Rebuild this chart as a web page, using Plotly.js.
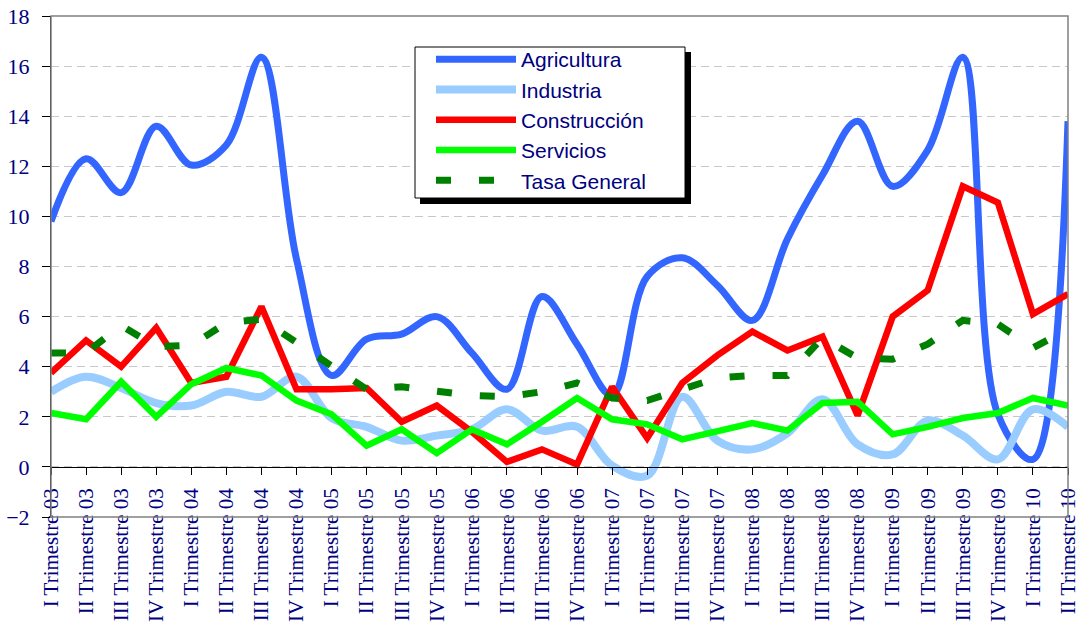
<!DOCTYPE html>
<html>
<head>
<meta charset="utf-8">
<script src="https://cdn.plot.ly/plotly-3.0.1.min.js"></script>
<style>html,body{margin:0;padding:0;background:#fff;}#chart{width:1076px;height:622px;}</style>
</head>
<body>
<div id="chart"></div>
<script>
const categories = [
  "I Trimestre 03","II Trimestre 03","III Trimestre 03","IV Trimestre 03",
  "I Trimestre 04","II Trimestre 04","III Trimestre 04","IV Trimestre 04",
  "I Trimestre 05","II Trimestre 05","III Trimestre 05","IV Trimestre 05",
  "I Trimestre 06","II Trimestre 06","III Trimestre 06","IV Trimestre 06",
  "I Trimestre 07","II Trimestre 07","III Trimestre 07","IV Trimestre 07",
  "I Trimestre 08","II Trimestre 08","III Trimestre 08","IV Trimestre 08",
  "I Trimestre 09","II Trimestre 09","III Trimestre 09","IV Trimestre 09",
  "I Trimestre 10","II Trimestre 10"
];
const agricultura = [9.8, 12.3, 10.95, 13.6, 12.05, 12.85, 16.35, 8.3, 3.65, 5.1, 5.3, 6.0, 4.55, 3.1, 6.8, 4.9, 2.85, 7.6, 8.35, 7.25, 5.85, 9.1, 11.65, 13.8, 11.2, 12.65, 16.35, 2.1, 0.3, 13.8];
const industria = [3.0, 3.6, 3.15, 2.55, 2.45, 3.0, 2.8, 3.6, 1.95, 1.6, 1.05, 1.25, 1.5, 2.3, 1.45, 1.6, 0.05, -0.35, 2.8, 1.05, 0.7, 1.35, 2.7, 0.9, 0.5, 1.85, 1.25, 0.3, 2.3, 1.6];
const construccion = [3.75, 5.05, 4.0, 5.55, 3.35, 3.6, 6.4, 3.1, 3.1, 3.15, 1.8, 2.45, 1.4, 0.2, 0.7, 0.1, 3.2, 1.15, 3.35, 4.45, 5.4, 4.65, 5.2, 2.05, 6.0, 7.05, 11.2, 10.55, 6.1, 6.9];
const servicios = [2.15, 1.9, 3.4, 2.0, 3.3, 3.95, 3.65, 2.65, 2.1, 0.85, 1.5, 0.55, 1.5, 0.9, 1.8, 2.75, 1.9, 1.7, 1.1, 1.4, 1.75, 1.45, 2.55, 2.6, 1.3, 1.6, 1.95, 2.15, 2.75, 2.45];
const tasaGeneral = [4.55, 4.55, 5.65, 4.8, 4.85, 5.75, 5.9, 4.95, 4.0, 3.1, 3.2, 3.05, 2.85, 2.8, 3.0, 3.35, 2.75, 2.65, 3.1, 3.55, 3.65, 3.65, 5.15, 4.35, 4.3, 4.9, 5.85, 5.7, 4.75, 5.5];

const seriesNames = ["Agricultura", "Industria", "Construcción", "Servicios", "Tasa General"];

const traces = [
  {x: categories, y: agricultura, name: seriesNames[0], type: 'scatter', mode: 'lines',
   line: {color: '#3366FF', width: 7, shape: 'spline', smoothing: 1}},
  {x: categories, y: industria, name: seriesNames[1], type: 'scatter', mode: 'lines',
   line: {color: '#99CCFF', width: 8, shape: 'spline', smoothing: 1}},
  {x: categories, y: construccion, name: seriesNames[2], type: 'scatter', mode: 'lines',
   line: {color: '#FF0000', width: 6.5}},
  {x: categories, y: servicios, name: seriesNames[3], type: 'scatter', mode: 'lines',
   line: {color: '#00FF00', width: 6.5}},
  {x: categories, y: tasaGeneral, name: seriesNames[4], type: 'scatter', mode: 'lines',
   line: {color: '#008000', width: 7, dash: '15px,28px'}}
];

const navy = '#000080';
const serif = '"Liberation Serif", "Times New Roman", serif';
const sans = '"Liberation Sans", Arial, sans-serif';

// plot area: left 51, right 1068, top 16, bottom 517 (px)
const px = v => (v - 51) / 1017;
const py = v => (517 - v) / 501;

const layout = {
  width: 1076, height: 622,
  margin: {l: 51, r: 8, t: 16, b: 105, pad: 0},
  paper_bgcolor: 'white', plot_bgcolor: 'white',
  showlegend: true,
  legend: {
    x: px(431), y: py(39), xanchor: 'left', yanchor: 'top',
    bgcolor: 'rgba(0,0,0,0)', borderwidth: 0,
    font: {family: sans, size: 21, color: navy},
    itemwidth: 80, tracegroupgap: 0, traceorder: 'normal'
  },
  xaxis: {
    type: 'category', range: [0, 29], anchor: 'free', position: 0.1,
    showline: true, linecolor: '#000000', linewidth: 1,
    ticks: 'outside', ticklen: 7, tickcolor: '#000000', tickwidth: 1,
    ticklabelstandoff: 5,
    tickangle: -90, tickfont: {family: serif, size: 21, color: navy},
    showgrid: false, zeroline: false
  },
  yaxis: {
    range: [-2, 18], tick0: 0, dtick: 2,
    showline: true, linecolor: '#000000', linewidth: 1,
    ticks: 'outside', ticklen: 8, tickcolor: '#000000', ticklabelstandoff: 8,
    tickfont: {family: serif, size: 22, color: navy},
    showgrid: true, gridcolor: '#c8c8c8', gridwidth: 1, griddash: '8px,5px',
    zeroline: false
  },
  shapes: [
    {type: 'rect', xref: 'paper', yref: 'paper', x0: 0, x1: 1, y0: 0, y1: 1,
     line: {color: '#808080', width: 1.5}, fillcolor: 'rgba(0,0,0,0)', layer: 'above'},
    // legend shadow
    {type: 'rect', xref: 'paper', yref: 'paper', x0: px(420), x1: px(691), y0: py(204), y1: py(52),
     line: {width: 0}, fillcolor: '#000000', layer: 'above'},
    // legend box
    {type: 'rect', xref: 'paper', yref: 'paper', x0: px(415), x1: px(685), y0: py(198), y1: py(47),
     line: {color: '#000000', width: 1}, fillcolor: '#ffffff', layer: 'above'}
  ]
};

Plotly.newPlot('chart', traces, layout, {displayModeBar: false, staticPlot: true});
</script>
</body>
</html>
